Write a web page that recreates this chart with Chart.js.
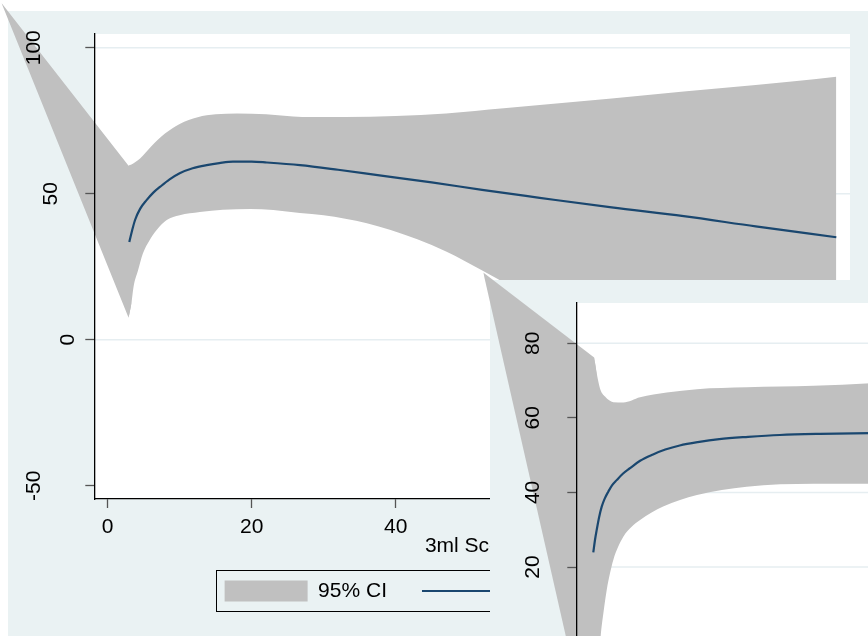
<!DOCTYPE html>
<html>
<head>
<meta charset="utf-8">
<script src="https://cdn.jsdelivr.net/npm/chart.js@4.4.1/dist/chart.umd.min.js"></script>
<style>
  html, body { margin: 0; padding: 0; background: #ffffff; }
  #wrap { position: relative; width: 868px; height: 636px; overflow: hidden; }
  #c1 { position: absolute; left: 0; top: 0; }
  #c2 { position: absolute; left: 482px; top: 269px; }
</style>
</head>
<body>
<div id="wrap">
  <canvas id="c1" width="868" height="636"></canvas>
  <canvas id="c2" width="868" height="636"></canvas>
</div>
<script>
// ---- Panel 1: local-polynomial smooth on 3ml Score, with 95% CI ----
const P1_X_TICKS = [0, 20, 40, 60, 80, 100];
const P1_Y_TICKS = [-50, 0, 50, 100];
const P1_Y_GRID = [0, 50, 100];

// straight leading piece of the band (corner point, then the first two estimates)
const P1_WEDGE_X = [-14.75, 2.9, 3.3];
const P1_WEDGE_UPPER = [115.3, 59.6, 60.0];
const P1_WEDGE_LOWER = [115.3, 7.5, 12.5];

const P1_UPPER_X = [2.9, 3.3, 3.8, 4.5, 6, 8, 10, 12.5, 15, 18, 22, 27, 33, 40, 47, 55, 65, 75, 85, 95, 101.2];
const P1_UPPER_Y = [59.6, 60.0, 60.8, 62.1, 66.1, 70.7, 73.9, 76.2, 77.2, 77.5, 77.2, 76.3, 76.3, 76.6, 77.5, 79.3, 81.5, 83.8, 86.1, 88.4, 90.1];

const P1_LOWER_X = [2.9, 3.3, 3.6, 4.2, 4.9, 5.8, 6.8, 8.2, 10, 12.8, 16, 19.8, 23, 26.7, 30, 33, 36, 39.3, 43, 47, 51.9, 60, 70, 80, 90, 101.2];
const P1_LOWER_Y = [7.5, 12.5, 18.2, 23.6, 29.6, 34, 37.6, 41, 42.6, 43.7, 44.5, 44.8, 44.4, 43.4, 42.6, 41.4, 39.9, 37.6, 34.4, 30.2, 23.9, 13, 2, -7, -14, -20];

const P1_FIT_X = [3, 3.4, 3.8, 4.5, 5.4, 6.3, 7.3, 8.6, 10, 11.8, 13.75, 15.5, 17.4, 20, 22.1, 26.7, 32, 38, 45, 52, 60, 70, 80, 90, 101.2];
const P1_FIT_Y = [33.5, 37.5, 41, 44.8, 47.8, 50.3, 52.4, 54.9, 57, 58.7, 59.8, 60.5, 61, 61, 60.7, 59.8, 58.2, 56.2, 53.9, 51.3, 48.6, 45.3, 42.3, 38.8, 35.1];

// ---- Panel 2 ----
const P2_X_TICKS = [0, 20, 40, 60, 80, 100];
const P2_Y_TICKS = [0, 20, 40, 60, 80];
const P2_Y_GRID = [0, 20, 40, 60, 80];

const P2_WEDGE_X = [-14.78, 0.62, 0.97];
const P2_WEDGE_UPPER = [98.95, 76.2, 72];
const P2_WEDGE_LOWER = [98.95, -32, -14];

const P2_UPPER_X = [0.62, 0.97, 1.43, 2.13, 3.28, 4.67, 7.0, 10.7, 14.9, 21.8, 31.1, 39];
const P2_UPPER_Y = [76.2, 72, 67.9, 65.7, 64.2, 64.1, 65.5, 66.8, 67.7, 68.2, 68.6, 69.3];

const P2_LOWER_X = [0.62, 0.97, 1.53, 1.9, 2.36, 2.82, 3.28, 4.67, 5.83, 7.0, 10.2, 14.9, 21.8, 31.1, 39];
const P2_LOWER_Y = [-32, -14, 1.5, 7.6, 13.8, 18.3, 21.9, 28.1, 30.8, 32.6, 36.2, 39.3, 41.5, 42.3, 42.3];

const P2_FIT_X = [0.5, 0.74, 0.97, 1.3, 1.67, 2.1, 2.58, 3.1, 3.75, 4.6, 5.6, 7, 8.8, 10.5, 12.5, 15, 18, 22, 26.4, 32, 39];
const P2_FIT_Y = [23.9, 27.3, 29.9, 33.3, 36.2, 38.4, 40.2, 41.9, 43.3, 45, 46.5, 48.5, 50.2, 51.5, 52.6, 53.5, 54.3, 54.9, 55.4, 55.7, 55.9];

const LEGEND_LABELS = ['95% CI', 'lpoly smooth'];
const X_TITLE = '3ml Score';

// ---- styling ----
const FONT = 'Liberation Sans, Arial, Helvetica, sans-serif';
const PANEL_BG = '#eaf2f3';
const GRID_COLOR = '#e6eef1';
const BAND = '#c0c0c0';
const LINE = '#1a476f';
const TICK_COLOR = '#555555';

Chart.defaults.font.family = FONT;
Chart.defaults.color = '#000000';

const pts = (xs, ys) => xs.map((x, i) => ({ x: x, y: ys[i] }));

// Background panel, plot region, gridlines, rotated y labels and the legend frame.
const stataFrame = {
  id: 'stataFrame',
  beforeDraw(chart) {
    const { ctx, chartArea: a } = chart;
    ctx.save();
    ctx.fillStyle = PANEL_BG;
    ctx.fillRect(8, 11, chart.width - 8, chart.height - 11);
    ctx.fillStyle = '#ffffff';
    ctx.fillRect(a.left, a.top, a.right - a.left, a.bottom - a.top);
    ctx.restore();
  },
  beforeDatasetsDraw(chart, args, opts) {
    const { ctx, chartArea: a } = chart;
    const y = chart.scales.y;
    ctx.save();
    ctx.strokeStyle = GRID_COLOR;
    ctx.lineWidth = 1.6;
    opts.grid.forEach(v => {
      const py = y.getPixelForValue(v);
      ctx.beginPath();
      ctx.moveTo(a.left, py);
      ctx.lineTo(a.right, py);
      ctx.stroke();
    });
    ctx.restore();
    // the confidence band is allowed to run outside the plot region
    chart.$plotArea = chart.chartArea;
    chart.chartArea = { left: 0, top: 0, right: chart.width, bottom: chart.height, width: chart.width, height: chart.height };
  },
  afterDatasetsDraw(chart) {
    if (chart.$plotArea) chart.chartArea = chart.$plotArea;
  },
  afterDraw(chart) {
    const { ctx, chartArea: a } = chart;
    const y = chart.scales.y;
    ctx.save();
    ctx.fillStyle = '#000000';
    ctx.font = '21px ' + FONT;
    ctx.textAlign = 'center';
    ctx.textBaseline = 'middle';
    y.ticks.forEach(t => {
      const label = String(t.value);
      const cx = a.left - 8.3 - 17.3 * label.length;
      const cy = y.getPixelForValue(t.value);
      ctx.save();
      ctx.translate(cx, cy);
      ctx.rotate(-Math.PI / 2);
      ctx.fillText(label, 0, 0);
      ctx.restore();
    });
    // legend frame
    const hb = chart.legend && chart.legend.legendHitBoxes;
    if (hb && hb.length) {
      const first = hb[0], last = hb[hb.length - 1];
      const cy = first.top + first.height / 2;
      const left = first.left - 9;
      const right = last.left + last.width + 9;
      ctx.strokeStyle = '#000000';
      ctx.lineWidth = 1;
      ctx.strokeRect(Math.round(left) + 0.5, Math.round(cy - 21) + 0.5, Math.round(right - left), 41);
    }
    ctx.restore();
  }
};

function bandSet(label, data, fill, smooth) {
  return {
    label: label,
    data: data,
    borderWidth: 0,
    borderColor: 'rgba(0,0,0,0)',
    backgroundColor: BAND,
    pointRadius: 0,
    tension: 0,
    cubicInterpolationMode: smooth ? 'monotone' : 'default',
    clip: false,
    fill: fill
  };
}

function makeChart(canvas, d) {
  return new Chart(canvas, {
    type: 'line',
    data: {
      datasets: [
        {
          label: LEGEND_LABELS[1],
          data: pts(d.fitX, d.fitY),
          borderColor: LINE,
          borderWidth: 2.2,
          pointRadius: 0,
          fill: false,
          cubicInterpolationMode: 'monotone',
          clip: false,
          borderJoinStyle: 'round'
        },
        bandSet(LEGEND_LABELS[0], pts(d.upX, d.upY), '+1', true),
        bandSet('lower', pts(d.loX, d.loY), false, true),
        bandSet('lead upper', pts(d.wX, d.wUp), '+1', false),
        bandSet('lead lower', pts(d.wX, d.wLo), false, false)
      ]
    },
    options: {
      responsive: false,
      animation: false,
      events: [],
      layout: { padding: { left: 8, top: 34, right: 18, bottom: 24.5 } },
      scales: {
        x: {
          type: 'linear',
          min: -1.86,
          max: 103.1,
          afterBuildTicks: s => { s.ticks = d.xTicks.map(v => ({ value: v })); },
          afterFit: s => { s.height = 46.5; },
          grid: { display: true, drawOnChartArea: false, drawTicks: true, tickLength: 9, tickColor: TICK_COLOR, tickWidth: 1.3, z: 1 },
          border: { display: true, color: '#000000', width: 1.3, z: 1 },
          ticks: { font: { size: 21 }, color: '#000000', padding: 7, maxRotation: 0, autoSkip: false },
          title: { display: true, text: X_TITLE, font: { size: 21 }, color: '#000000', padding: { top: 0, bottom: -13.6 } }
        },
        y: {
          type: 'linear',
          min: d.yMin,
          max: d.yMax,
          afterBuildTicks: s => { s.ticks = d.yTicks.map(v => ({ value: v })); },
          afterFit: s => { s.width = 86.3; },
          grid: { display: true, drawOnChartArea: false, drawTicks: true, tickLength: 9, tickColor: TICK_COLOR, tickWidth: 1.3, z: 1 },
          border: { display: true, color: '#000000', width: 1.3, z: 1 },
          ticks: { display: false }
        }
      },
      plugins: {
        tooltip: { enabled: false },
        stataFrame: { grid: d.yGrid },
        legend: {
          display: true,
          position: 'bottom',
          labels: {
            usePointStyle: true,
            pointStyleWidth: 83,
            padding: 35,
            color: '#000000',
            font: { size: 21 },
            generateLabels: () => [
              { text: LEGEND_LABELS[0], pointStyle: 'rect', fillStyle: BAND, strokeStyle: 'rgba(0,0,0,0)', lineWidth: 0, fontColor: '#000000', datasetIndex: 1, hidden: false },
              { text: LEGEND_LABELS[1], pointStyle: 'line', fillStyle: 'rgba(0,0,0,0)', strokeStyle: LINE, lineWidth: 2.2, fontColor: '#000000', datasetIndex: 0, hidden: false }
            ]
          }
        }
      }
    },
    plugins: [stataFrame]
  });
}

makeChart(document.getElementById('c1'), {
  xTicks: P1_X_TICKS, yTicks: P1_Y_TICKS, yGrid: P1_Y_GRID, yMin: -54.55, yMax: 104.7,
  wX: P1_WEDGE_X, wUp: P1_WEDGE_UPPER, wLo: P1_WEDGE_LOWER,
  upX: P1_UPPER_X, upY: P1_UPPER_Y, loX: P1_LOWER_X, loY: P1_LOWER_Y, fitX: P1_FIT_X, fitY: P1_FIT_Y
});

makeChart(document.getElementById('c2'), {
  xTicks: P2_X_TICKS, yTicks: P2_Y_TICKS, yGrid: P2_Y_GRID, yMin: -33.9, yMax: 90.8,
  wX: P2_WEDGE_X, wUp: P2_WEDGE_UPPER, wLo: P2_WEDGE_LOWER,
  upX: P2_UPPER_X, upY: P2_UPPER_Y, loX: P2_LOWER_X, loY: P2_LOWER_Y, fitX: P2_FIT_X, fitY: P2_FIT_Y
});
</script>
</body>
</html>
